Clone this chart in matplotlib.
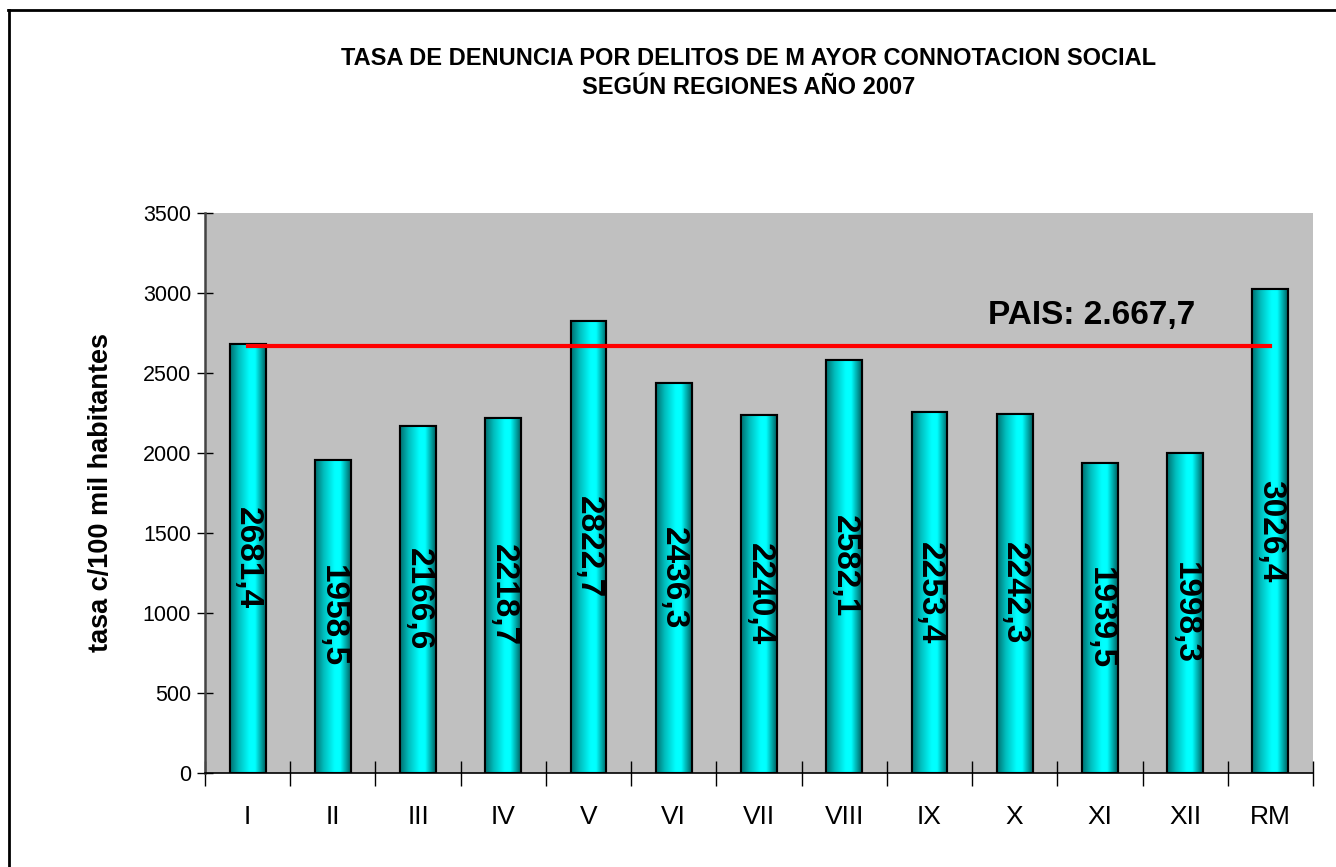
import numpy as np
import matplotlib
matplotlib.use("Agg")
import matplotlib.pyplot as plt
from matplotlib.colors import LinearSegmentedColormap
from matplotlib.lines import Line2D

regiones = ["I", "II", "III", "IV", "V", "VI", "VII", "VIII", "IX", "X", "XI", "XII", "RM"]
tasas = [2681.4, 1958.5, 2166.6, 2218.7, 2822.7, 2436.3, 2240.4, 2582.1, 2253.4, 2242.3, 1939.5, 1998.3, 3026.4]
etiquetas = ["2681,4", "1958,5", "2166,6", "2218,7", "2822,7", "2436,3", "2240,4",
             "2582,1", "2253,4", "2242,3", "1939,5", "1998,3", "3026,4"]
pais = 2667.7
pais_label = "PAIS: 2.667,7"
titulo = "TASA DE DENUNCIA POR DELITOS DE M AYOR CONNOTACION SOCIAL\nSEGÚN REGIONES AÑO 2007"
ylabel = "tasa c/100 mil habitantes"

plt.rcParams['font.family'] = ['Liberation Sans', 'DejaVu Sans']

fig = plt.figure(figsize=(13.36, 8.67), dpi=100)
W, H = 1336, 867
ax = fig.add_axes([205 / W, 1 - 773 / H, (1313 - 205) / W, (773 - 213) / H])
ax.set_facecolor("#C0C0C0")

x = np.arange(len(regiones))
bars = ax.bar(x, tasas, width=0.42, color="#00FFFF", edgecolor="black", linewidth=1.5, zorder=2)

cmap = LinearSegmentedColormap.from_list(
    "cyl", [(0.0, "#006F6F"), (0.25, "#00BFBF"), (0.55, "#00FFFF"), (0.7, "#00FFFF"), (1.0, "#006060")])
grad = np.linspace(0, 1, 256).reshape(1, -1)
for b in bars:
    bx, bw, bh = b.get_x(), b.get_width(), b.get_height()
    im = ax.imshow(grad, cmap=cmap, aspect="auto", extent=[bx, bx + bw, 0, bh],
                   origin="lower", zorder=2.5, interpolation="bilinear")
    im.set_clip_path(b)
    rim = plt.Rectangle((bx, 0), bw, bh, fill=False, edgecolor="black", linewidth=1.5, zorder=3)
    ax.add_patch(rim)

for xi, v, lab in zip(x, tasas, etiquetas):
    ax.text(xi, v / 2, lab, rotation=270, ha="center", va="center",
            fontsize=24, fontweight="bold", color="black", zorder=5)

ax.plot([x[0], x[-1]], [pais, pais], color="#FF0000", linewidth=3, zorder=4)
ax.text(9.9, 2860, pais_label, ha="center", va="center", fontsize=24, fontweight="bold", zorder=5)

ax.set_xlim(-0.5, len(regiones) - 0.5)
ax.set_ylim(0, 3500)
ax.set_yticks(np.arange(0, 3501, 500))
ax.tick_params(axis="y", labelsize=15.5, direction="inout", length=12, width=1, pad=4)
ax.set_xticks(x)
ax.set_xticklabels(regiones, fontsize=19)
ax.tick_params(axis="x", length=0, pad=23)
ax.set_xticks(np.arange(-0.5, len(regiones), 1), minor=True)
ax.tick_params(axis="x", which="minor", direction="inout", length=18, width=1)

for s in ["top", "right"]:
    ax.spines[s].set_visible(False)
ax.spines["left"].set_linewidth(1.8)
ax.spines["left"].set_color("#444444")
ax.spines["bottom"].set_linewidth(1.2)

ax.set_ylabel(ylabel, fontsize=19.5, fontweight="bold", labelpad=10)
ax.yaxis.set_label_coords((114 - 205) / (1313 - 205), 0.5)

fig.text(0.5 * (343 + 1155) / W, 1 - 73 / H, titulo, ha="center", va="center",
         fontsize=17, fontweight="bold", linespacing=1.3)

# outer frame (top and left edges)
fig.add_artist(Line2D([8 / W, 1], [1 - 9.5 / H, 1 - 9.5 / H], color="black", linewidth=2))
fig.add_artist(Line2D([8.5 / W, 8.5 / W], [0, 1 - 9.5 / H], color="black", linewidth=2))

fig.savefig("out.png", dpi=100)
